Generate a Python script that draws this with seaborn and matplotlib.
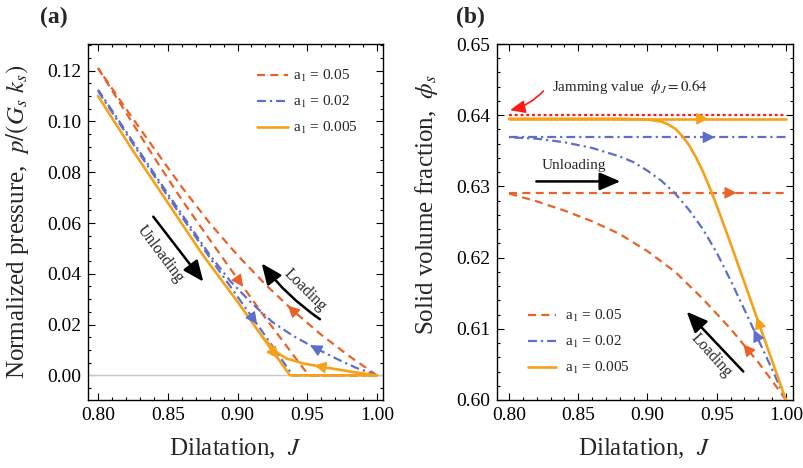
import numpy as np
import pandas as pd
import seaborn as sns
import matplotlib
matplotlib.use("Agg")
import matplotlib.pyplot as plt
from matplotlib.ticker import MultipleLocator, FormatStrFormatter

# ---------------- data: panel (a) ----------------
J_a05_unload = [0.800, 0.820, 0.840, 0.860, 0.880, 0.900, 0.920, 0.940, 0.951, 1.000]
p_a05_unload = [0.1210, 0.1035, 0.0860, 0.0692, 0.0535, 0.0380, 0.0226, 0.0080, 0.0, 0.0]
J_a05_load = [1.000, 0.980, 0.960, 0.940, 0.920, 0.900, 0.880, 0.860, 0.840, 0.820, 0.800]
p_a05_load = [0.0, 0.0076, 0.0160, 0.0254, 0.0358, 0.0473, 0.0600, 0.0742, 0.0895, 0.1050, 0.1210]

J_a02_unload = [0.800, 0.850, 0.880, 0.900, 0.920, 0.9395, 1.000]
p_a02_unload = [0.112, 0.0705, 0.0465, 0.0310, 0.0155, 0.0, 0.0]
J_a02_load = [1.000, 0.985, 0.970, 0.955, 0.940, 0.925, 0.910, 0.895, 0.880, 0.850, 0.800]
p_a02_load = [0.0, 0.0030, 0.0068, 0.0110, 0.0155, 0.0210, 0.0285, 0.0370, 0.0475, 0.0715, 0.1125]

J_a005_unload = [0.800, 0.825, 0.850, 0.875, 0.900, 0.920, 0.9376, 1.000]
p_a005_unload = [0.110, 0.0885, 0.0680, 0.0475, 0.0290, 0.0135, 0.0, 0.0]
J_a005_load = [1.000, 0.983, 0.960, 0.947, 0.935, 0.929, 0.918]
p_a005_load = [0.0, 0.0013, 0.0034, 0.0047, 0.0067, 0.0087, 0.0150]

# ---------------- data: panel (b) ----------------
J_flat = [0.80, 1.00]
phi_jam = [0.640, 0.640]
phi_a05_unload = [0.6291, 0.6291]
phi_a02_unload = [0.6369, 0.6369]
phi_a005_unload = [0.6395, 0.6395]

J_b05_load = [1.00, 0.99, 0.98, 0.96, 0.94, 0.92, 0.90, 0.88, 0.86, 0.84, 0.82, 0.80]
phi_b05_load = [0.6000, 0.6027, 0.6053, 0.6100, 0.6142, 0.6180, 0.6209, 0.6233, 0.6251, 0.6266, 0.6279, 0.6290]

J_b02_load = [1.00, 0.99, 0.98, 0.97, 0.96, 0.95, 0.94, 0.93, 0.92, 0.91, 0.90, 0.89, 0.88, 0.86, 0.84, 0.82, 0.80]
phi_b02_load = [0.6000, 0.6043, 0.6085, 0.6127, 0.6168, 0.6207, 0.6240, 0.6267, 0.6290, 0.6308,
                0.6322, 0.6334, 0.6342, 0.6354, 0.6362, 0.6367, 0.6369]

J_b005_load = [1.00, 0.99, 0.98, 0.97, 0.96, 0.95, 0.945, 0.94, 0.935, 0.93, 0.925, 0.92, 0.915,
               0.91, 0.90, 0.88, 0.80]
phi_b005_load = [0.6000, 0.6055, 0.6110, 0.6165, 0.6220, 0.6273, 0.6298, 0.6321, 0.6341, 0.6358,
                 0.6371, 0.6381, 0.6387, 0.6391, 0.6394, 0.6395, 0.6395]

labels = [r"a$_1$ = 0.05", r"a$_1$ = 0.02", r"a$_1$ = 0.005"]

# ---------------- style ----------------
sns.set_theme(style="ticks")
plt.rcParams.update({
    "font.family": ["Liberation Serif", "DejaVu Serif"],
    "mathtext.fontset": "stix",
    "axes.linewidth": 1.0,
    "axes.edgecolor": "black",
    "xtick.color": "black", "ytick.color": "black",
})

C05 = "#E8622A"
C02 = "#5E6FCB"
C005 = "#F5A11A"
LS05 = (0, (3.6, 2.4))
LS02 = (0, (4.0, 1.8, 1.0, 1.8))
LW = 1.6

fig = plt.figure(figsize=(8.04, 4.68), dpi=100)
ax1 = fig.add_axes([88 / 804, 1 - 400 / 468, 295 / 804, 356 / 468])
ax2 = fig.add_axes([497 / 804, 1 - 400 / 468, 296 / 804, 356 / 468])


def line(ax, x, y, color, ls, lw=LW, label=None, z=2):
    df = pd.DataFrame({"x": x, "y": y})
    sns.lineplot(data=df, x="x", y="y", ax=ax, color=color, linestyle=ls, lw=lw,
                 sort=False, estimator=None, label=label, zorder=z)


def head(ax, x, y, xh, color, ms=12):
    x = np.asarray(x, float)
    y = np.asarray(y, float)
    o = np.argsort(x)
    s = np.sign(x[-1] - x[0])
    yh = np.interp(xh, x[o], y[o])
    xt = xh - s * 0.004
    yt = np.interp(xt, x[o], y[o])
    ax.annotate("", xy=(xh, yh), xytext=(xt, yt),
                arrowprops=dict(arrowstyle="-|>,head_length=0.6,head_width=0.3",
                                color=color, lw=1, shrinkA=0, shrinkB=0,
                                mutation_scale=ms), zorder=5)


def big_arrow(ax, tail, tip, color="black", rad=0.0, lw=1.8, ms=18):
    ax.annotate("", xy=tip, xytext=tail,
                arrowprops=dict(arrowstyle="-|>,head_length=0.7,head_width=0.3",
                                color=color, lw=lw, shrinkA=0, shrinkB=0,
                                mutation_scale=ms,
                                connectionstyle=f"arc3,rad={rad}"))


# ---------------- panel (a) ----------------
ax1.axhline(0, color="#c8c8c8", lw=1.0, zorder=1)
line(ax1, J_a05_unload, p_a05_unload, C05, LS05, label=labels[0])
line(ax1, J_a05_load, p_a05_load, C05, LS05)
line(ax1, J_a02_unload, p_a02_unload, C02, LS02, label=labels[1])
line(ax1, J_a02_load, p_a02_load, C02, LS02)
line(ax1, J_a005_unload, p_a005_unload, C005, "-", lw=1.9, label=labels[2], z=3)
line(ax1, J_a005_load, p_a005_load, C005, "-", lw=1.9, z=3)

head(ax1, J_a05_unload, p_a05_unload, 0.904, C05)
head(ax1, J_a05_load, p_a05_load, 0.936, C05)
head(ax1, J_a02_unload, p_a02_unload, 0.914, C02)
head(ax1, J_a02_load, p_a02_load, 0.952, C02)
head(ax1, J_a005_unload, p_a005_unload, 0.929, C005)
head(ax1, J_a005_load, p_a005_load, 0.955, C005)

big_arrow(ax1, (0.8396, 0.0625), (0.8755, 0.0369))
ax1.text(0.8449, 0.0478, "Unloading", rotation=-53, ha="center", va="center",
         rotation_mode="anchor", fontsize=11.5)
big_arrow(ax1, (0.9591, 0.0221), (0.9173, 0.0441), rad=-0.08)
ax1.text(0.9484, 0.0336, "Loading", rotation=-45, ha="center", va="center",
         rotation_mode="anchor", fontsize=11.5)

ax1.set_xlim(0.7928, 1.0043)
ax1.set_ylim(-0.0097, 0.1305)
ax1.xaxis.set_major_locator(MultipleLocator(0.05))
ax1.xaxis.set_minor_locator(MultipleLocator(0.01))
ax1.yaxis.set_major_locator(MultipleLocator(0.02))
ax1.yaxis.set_minor_locator(MultipleLocator(0.005))
ax1.yaxis.set_major_formatter(FormatStrFormatter("%.2f"))
ax1.xaxis.set_major_formatter(FormatStrFormatter("%.2f"))
ax1.set_xlabel(r"Dilatation,  $J$", fontsize=18)
ax1.set_ylabel(r"Normalized pressure,  $p/(G_s\ k_s)$", fontsize=18)
ax1.yaxis.set_label_coords(-0.193, 0.501)
ax1.xaxis.set_label_coords(0.5, -0.104)

# ---------------- panel (b) ----------------
line(ax2, J_flat, phi_jam, "#FF1A1A", (0, (1.3, 1.3)), lw=1.6, z=1)
line(ax2, J_flat, phi_a05_unload, C05, LS05, label=labels[0])
line(ax2, J_b05_load, phi_b05_load, C05, LS05)
line(ax2, J_flat, phi_a02_unload, C02, LS02, label=labels[1])
line(ax2, J_b02_load, phi_b02_load, C02, LS02)
line(ax2, J_flat, phi_a005_unload, C005, "-", lw=1.9, label=labels[2], z=3)
line(ax2, J_b005_load, phi_b005_load, C005, "-", lw=1.9, z=3)

head(ax2, J_flat, phi_a05_unload, 0.9644, C05)
head(ax2, J_flat, phi_a02_unload, 0.9487, C02)
head(ax2, J_flat, phi_a005_unload, 0.944, C005)
head(ax2, J_b05_load, phi_b05_load, 0.9692, C05)
head(ax2, J_b02_load, phi_b02_load, 0.9767, C02)
head(ax2, J_b005_load, phi_b005_load, 0.9788, C005)

big_arrow(ax2, (0.8197, 0.6307), (0.8804, 0.6307))
ax2.text(0.8467, 0.6330, "Unloading", ha="center", va="center", fontsize=11)
big_arrow(ax2, (0.9692, 0.6040), (0.9283, 0.6124))
ax2.text(0.9463, 0.6063, "Loading", rotation=-48, ha="center", va="center",
         rotation_mode="anchor", fontsize=11.5)
big_arrow(ax2, (0.8248, 0.6434), (0.8007, 0.6407), color="#FF1A1A", rad=-0.15,
          lw=1.2, ms=13)
ax2.text(0.831, 0.6440, r"Jamming value  $\phi_J = 0.64$", ha="left", va="center",
         fontsize=10.8)

ax2.set_xlim(0.7913, 1.0051)
ax2.set_ylim(0.60, 0.65)
ax2.xaxis.set_major_locator(MultipleLocator(0.05))
ax2.xaxis.set_minor_locator(MultipleLocator(0.01))
ax2.yaxis.set_major_locator(MultipleLocator(0.01))
ax2.yaxis.set_minor_locator(MultipleLocator(0.002))
ax2.yaxis.set_major_formatter(FormatStrFormatter("%.2f"))
ax2.xaxis.set_major_formatter(FormatStrFormatter("%.2f"))
ax2.set_xlabel(r"Dilatation,  $J$", fontsize=18)
ax2.set_ylabel(r"Solid volume fraction,  $\phi_s$", fontsize=18)
ax2.yaxis.set_label_coords(-0.193, 0.549)
ax2.xaxis.set_label_coords(0.5, -0.104)

for ax in (ax1, ax2):
    ax.tick_params(which="both", direction="in", top=True, right=True,
                   labelsize=14, width=0.8, pad=5)
    ax.tick_params(which="major", length=5)
    ax.tick_params(which="minor", length=2.5)
    for sp in ax.spines.values():
        sp.set_visible(True)
        sp.set_color("black")
        sp.set_linewidth(1.0)

ax1.legend(loc="center left", bbox_to_anchor=(0.573, 0.837), frameon=False,
           fontsize=11, handlelength=2.05, handletextpad=0.3, labelspacing=0.65,
           borderpad=0, borderaxespad=0)
ax2.legend(loc="center left", bbox_to_anchor=(0.105, 0.163), frameon=False,
           fontsize=11, handlelength=1.85, handletextpad=0.55, labelspacing=0.65,
           borderpad=0, borderaxespad=0)

fig.text(54 / 804, 1 - 17 / 468, "(a)", fontweight="bold", fontsize=17,
         ha="center", va="center")
fig.text(470 / 804, 1 - 17 / 468, "(b)", fontweight="bold", fontsize=17,
         ha="center", va="center")

fig.savefig("out.png", dpi=100, facecolor="white")
